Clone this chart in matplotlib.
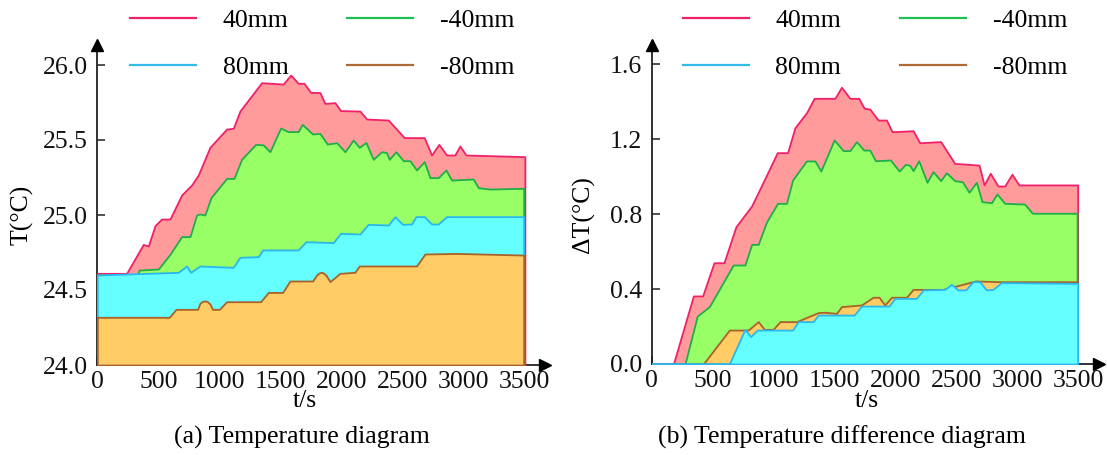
import matplotlib
matplotlib.use("Agg")
import matplotlib.pyplot as plt
from matplotlib.lines import Line2D

plt.rcParams['font.family'] = ['Liberation Serif', 'DejaVu Serif']
plt.rcParams['mathtext.fontset'] = 'stix'

# ---------------- data: panel (a) temperature ----------------
t_a40 = [0, 240, 377, 418, 473, 527, 596, 691, 773, 828, 923, 1060, 1115, 1169, 1347, 1524, 1585,
         1647, 1694, 1748, 1825, 1866, 1948, 1994, 2153, 2208, 2385, 2516, 2680, 2740, 2800, 2863,
         2931, 2972, 3022, 3505]
T_a40 = [24.611, 24.611, 24.804, 24.793, 24.929, 24.973, 24.973, 25.133, 25.200, 25.267, 25.451,
         25.573, 25.578, 25.693, 25.882, 25.873, 25.933, 25.878, 25.878, 25.818, 25.816, 25.744,
         25.749, 25.696, 25.693, 25.640, 25.633, 25.516, 25.516, 25.400, 25.471, 25.400, 25.400,
         25.460, 25.400, 25.389]

t_am40 = [0, 330, 344, 500, 596, 691, 760, 814, 841, 882, 932, 1060, 1120, 1183, 1298, 1361, 1415,
          1503, 1565, 1647, 1680, 1765, 1825, 1885, 1962, 2030, 2098, 2147, 2202, 2262, 2330, 2371,
          2393, 2448, 2508, 2563, 2617, 2680, 2727, 2795, 2858, 2904, 3082, 3123, 3218, 3495]
T_am40 = [24.600, 24.605, 24.633, 24.640, 24.738, 24.856, 24.856, 25.000, 25.007, 25.000, 25.116,
          25.244, 25.244, 25.371, 25.471, 25.467, 25.422, 25.580, 25.556, 25.556, 25.604, 25.540,
          25.544, 25.473, 25.482, 25.422, 25.500, 25.451, 25.484, 25.371, 25.422, 25.416, 25.371,
          25.422, 25.362, 25.362, 25.300, 25.356, 25.249, 25.249, 25.300, 25.233, 25.240, 25.182,
          25.173, 25.178]

t_a80 = [0, 664, 732, 765, 841, 1115, 1169, 1320, 1355, 1647, 1710, 1934, 1994, 2153, 2221, 2385,
         2440, 2502, 2576, 2612, 2680, 2740, 2795, 2863, 3495]
T_a80 = [24.600, 24.618, 24.660, 24.618, 24.660, 24.651, 24.718, 24.722, 24.767, 24.767, 24.822,
         24.816, 24.878, 24.873, 24.938, 24.933, 24.989, 24.938, 24.940, 24.989, 24.989, 24.940,
         24.940, 24.989, 24.989]

t_am80 = [0, 590, 645, 822, 841, 862, 882, 903, 923, 945, 1000, 1060, 1339, 1402, 1519, 1579, 1765,
          1798, 1821, 1844, 1874, 1907, 1989, 2112, 2147, 2617, 2686, 2945, 3495]
T_am80 = [24.318, 24.318, 24.371, 24.371, 24.411, 24.425, 24.427, 24.422, 24.407, 24.371, 24.371,
          24.422, 24.422, 24.484, 24.484, 24.560, 24.560, 24.600, 24.615, 24.618, 24.600, 24.556,
          24.611, 24.618, 24.660, 24.660, 24.740, 24.744, 24.733]

# ---------------- data: panel (b) temperature difference ----------------
t_b40 = [0, 178, 342, 418, 511, 593, 691, 820, 943, 1030, 1115, 1175, 1270, 1333, 1503, 1557, 1626,
         1699, 1743, 1789, 1858, 1926, 1972, 2145, 2199, 2371, 2486, 2686, 2727, 2778, 2841, 2896,
         2956, 3013, 3495]
dT_b40 = [0.0, 0.0, 0.363, 0.363, 0.540, 0.540, 0.732, 0.843, 1.008, 1.127, 1.127, 1.260, 1.340,
          1.417, 1.417, 1.476, 1.417, 1.417, 1.364, 1.360, 1.301, 1.301, 1.239, 1.244, 1.180, 1.186,
          1.070, 1.061, 0.955, 1.017, 0.949, 0.949, 1.012, 0.955, 0.955]

t_bm40 = [0, 273, 374, 473, 669, 765, 820, 874, 943, 1033, 1106, 1156, 1270, 1339, 1388, 1497, 1571,
          1626, 1680, 1740, 1789, 1836, 1959, 2030, 2082, 2117, 2145, 2191, 2259, 2308, 2371, 2418,
          2486, 2549, 2604, 2664, 2710, 2787, 2833, 2896, 3060, 3123, 3490]
dT_bm40 = [0.0, 0.0, 0.256, 0.306, 0.528, 0.528, 0.638, 0.638, 0.759, 0.857, 0.857, 0.981, 1.083,
           1.083, 1.029, 1.195, 1.138, 1.138, 1.186, 1.141, 1.141, 1.084, 1.088, 1.029, 1.065,
           1.060, 1.031, 1.084, 0.969, 1.026, 0.978, 1.020, 0.978, 0.972, 0.916, 0.969, 0.866,
           0.860, 0.907, 0.857, 0.853, 0.804, 0.804]

t_b80 = [0, 637, 765, 811, 866, 1156, 1202, 1325, 1366, 1661, 1721, 1948, 1994, 2172, 2227, 2404,
         2459, 2513, 2576, 2636, 2691, 2746, 2800, 2869, 3495]
dT_b80 = [0.0, 0.0, 0.185, 0.146, 0.181, 0.181, 0.226, 0.226, 0.261, 0.261, 0.309, 0.309, 0.350,
          0.350, 0.395, 0.398, 0.425, 0.395, 0.395, 0.439, 0.439, 0.395, 0.398, 0.434, 0.430]

t_bm80 = [0, 423, 637, 792, 874, 923, 997, 1052, 1188, 1366, 1421, 1516, 1557, 1721, 1817, 1866,
          1912, 1967, 2090, 2145, 2391, 2658, 2849, 3490]
dT_bm80 = [0.0, 0.0, 0.181, 0.181, 0.226, 0.185, 0.185, 0.226, 0.226, 0.274, 0.276, 0.270, 0.306,
           0.315, 0.356, 0.356, 0.315, 0.356, 0.356, 0.398, 0.398, 0.443, 0.439, 0.439]

labels = ['40mm', '-40mm', '80mm', '-80mm']
x_ticks = [0, 500, 1000, 1500, 2000, 2500, 3000, 3500]
y_ticks_a = [24.0, 24.5, 25.0, 25.5, 26.0]
y_ticks_b = [0.0, 0.4, 0.8, 1.2, 1.6]

# ---------------- styles ----------------
edge = {'40mm': '#f0206a', '-40mm': '#1fae4a', '80mm': '#29b8ee', '-80mm': '#a8622a'}
face = {'40mm': '#ff9b9b', '-40mm': '#99ff66', '80mm': '#66ffff', '-80mm': '#ffcc66'}
legend_col = {'40mm': '#f0206a', '-40mm': '#1fbf55', '80mm': '#33bbee', '-80mm': '#b06a35'}
FS = 18.5

W, H = 1107, 455
fig = plt.figure(figsize=(W / 100, H / 100), dpi=100)

def fx(px):
    return px / W

def fy(py):
    return 1 - py / H

ax_a = fig.add_axes([fx(97.3), fy(365), fx(545 - 97.3), (365 - 45) / H])
ax_b = fig.add_axes([fx(651.7), fy(364), fx(1099 - 651.7), (364 - 45) / H])

def draw(ax, series, base, order):
    for name in order:
        t, v = series[name]
        ax.fill_between(t, base, v, facecolor=face[name], edgecolor=edge[name], linewidth=1.3, zorder=2)

series_a = {'40mm': (t_a40, T_a40), '-40mm': (t_am40, T_am40),
            '80mm': (t_a80, T_a80), '-80mm': (t_am80, T_am80)}
series_b = {'40mm': (t_b40, dT_b40), '-40mm': (t_bm40, dT_bm40),
            '80mm': (t_b80, dT_b80), '-80mm': (t_bm80, dT_bm80)}

draw(ax_a, series_a, 24.0, ['40mm', '-40mm', '80mm', '-80mm'])
draw(ax_b, series_b, 0.0, ['40mm', '-40mm', '-80mm', '80mm'])

ax_a.set_xlim(0, 3670)
ax_a.set_ylim(24.0, 24.0 + 320 / 150)
ax_b.set_xlim(0, 3670)
ax_b.set_ylim(0.0, 0.4 * 319 / 75)

for ax, yt in ((ax_a, y_ticks_a), (ax_b, y_ticks_b)):
    ax.set_xticks(x_ticks)
    ax.set_xticklabels([str(v) for v in x_ticks])
    ax.set_yticks(yt)
    ax.set_yticklabels(['%.1f' % v for v in yt])
    for s in ('top', 'right'):
        ax.spines[s].set_visible(False)
    for s in ('left', 'bottom'):
        ax.spines[s].set_color('#222222')
        ax.spines[s].set_linewidth(1.3)
        ax.spines[s].set_zorder(1.5)
    ax.tick_params(direction='in', length=6, width=1.1, color='#222222', labelsize=FS,
                   labelcolor='#111111')
    ax.tick_params(axis='y', pad=7)
    ax.tick_params(axis='x', pad=4)
    ax.plot(1, 0, '>', color='black', markersize=8, transform=ax.transAxes, clip_on=False, zorder=5)
    ax.plot(0, 1, '^', color='black', markersize=8, transform=ax.transAxes, clip_on=False, zorder=5)
    ax.patch.set_alpha(0)

# axis labels and captions
fig.text(fx(22), fy(215), 'T(°C)', rotation=90, ha='center', va='center', fontsize=FS)
fig.text(fx(583), fy(215), 'ΔT(°C)', rotation=90, ha='center', va='center', fontsize=FS)
fig.text(fx(305), fy(401), 't/s', ha='center', va='center', fontsize=FS)
fig.text(fx(867), fy(401), 't/s', ha='center', va='center', fontsize=FS)
fig.text(fx(302), fy(437), '(a) Temperature diagram', ha='center', va='center', fontsize=FS)
fig.text(fx(842), fy(437), '(b) Temperature difference diagram', ha='center', va='center', fontsize=FS)

# legends
handles = [Line2D([0], [0], color=legend_col[n], lw=1.6) for n in ['40mm', '-40mm', '80mm', '-80mm']]
hl = [handles[0], handles[2], handles[1], handles[3]]
ll = ['40mm', '80mm', '-40mm', '-80mm']
for x0 in (130, 683):
    fig.legend(hl, ll, loc='upper left', bbox_to_anchor=(fx(x0), fy(9)), ncol=2, frameon=False,
               fontsize=FS, borderpad=0, borderaxespad=0, handlelength=2.55, handletextpad=1.05,
               columnspacing=2.3, labelspacing=0.95)

fig.savefig('out.png', dpi=100)
